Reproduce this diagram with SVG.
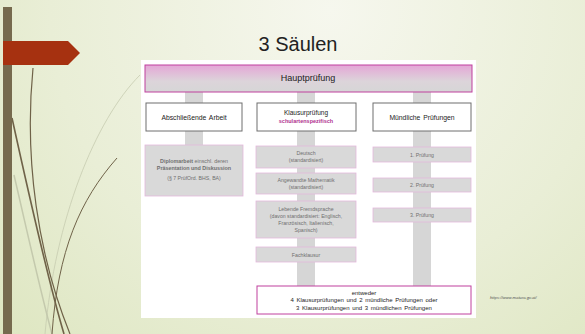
<svg xmlns="http://www.w3.org/2000/svg" width="585" height="334" viewBox="0 0 585 334">
<defs>
<radialGradient id="bg" cx="330" cy="10" r="560" gradientUnits="userSpaceOnUse">
<stop offset="0" stop-color="#f6f7ee"/>
<stop offset="0.5" stop-color="#e9eed6"/>
<stop offset="1" stop-color="#d8e2b6"/>
</radialGradient>
<linearGradient id="hp" x1="0" y1="0" x2="0" y2="1">
<stop offset="0" stop-color="#e4a6d6"/>
<stop offset="0.6" stop-color="#dcd4da"/>
<stop offset="1" stop-color="#d6d6d6"/>
</linearGradient>
<style>
.t{font-family:"Liberation Sans",Arial,sans-serif;text-anchor:middle}
.hdr{fill:#ffffff;stroke:#6e6e6e;stroke-width:1}
.item{fill:#d9d9d9;stroke:#e3b9dc;stroke-width:0.8}
.bar{fill:#d6d6d6}
.dark{fill:#222222}
.grey{fill:#6f6f6f}
.curve{fill:none;stroke:#6f6248}
</style>
</defs>
<rect x="0" y="0" width="585" height="334" fill="url(#bg)"/>
<g id="decor">
<path class="curve" d="M140 75 C95 120 55 220 45 334" stroke="#c9cdb4" stroke-width="0.8" style="stroke:#c6cbb0"/>
<path class="curve" d="M14 175 C28 235 40 290 52 334" style="stroke:#c4c9ad" stroke-width="1.5"/>
<path class="curve" d="M33 68 C24 160 38 255 70 334" stroke-width="1.2"/>
<path class="curve" d="M12 118 C30 200 48 280 64 334" stroke-width="1.6"/>
<path class="curve" d="M117 158 C80 200 58 250 52 334" stroke-width="1"/>
<rect x="3" y="7" width="9" height="327" fill="#766a4e"/>
<polygon points="3,41 68,41 80,53 68,65 3,65" fill="#a63110"/>
</g>
<text class="t dark" x="298" y="51" font-size="20" style="font-family:'Liberation Sans',sans-serif">3 Säulen</text>
<rect x="141" y="60" width="335" height="258" fill="#ffffff"/>
<g id="connectors">
<rect class="bar" x="185" y="92" width="18" height="53"/>
<rect class="bar" x="297" y="92" width="18" height="194"/>
<rect class="bar" x="413" y="92" width="18" height="194"/>
</g>
<g id="hauptpruefung">
<rect x="145" y="65" width="327" height="27" fill="url(#hp)" stroke="#c0409e" stroke-width="1"/>
<text class="t dark" x="308" y="81" font-size="9">Hauptprüfung</text>
</g>
<g id="abschliessende-arbeit">
<rect class="hdr" x="146" y="103" width="96" height="28"/>
<text class="t dark" x="194" y="119.5" font-size="6.8" word-spacing="1">Abschließende Arbeit</text>
</g>
<g id="klausurpruefung">
<rect class="hdr" x="257" y="103" width="99" height="28"/>
<text class="t dark" x="306" y="115" font-size="6.5">Klausurprüfung</text>
<text class="t" x="306" y="122.5" font-size="5.5" font-weight="bold" fill="#b0308f">schulartenspezifisch</text>
</g>
<g id="muendliche-pruefungen">
<rect class="hdr" x="373" y="103" width="98" height="28"/>
<text class="t dark" x="422" y="119.5" font-size="6.8" word-spacing="1">Mündliche Prüfungen</text>
</g>
<g id="diplomarbeit">
<rect class="item" x="145" y="145" width="98" height="51"/>
<text class="t grey" x="194" y="163" font-size="5.4"><tspan font-weight="bold">Diplomarbeit</tspan> einschl. deren</text>
<text class="t grey" x="194" y="170" font-size="5.4" font-weight="bold">Präsentation und Diskussion</text>
<text class="t grey" x="194" y="180" font-size="5.2">(§ 7 PrüfOrd. BHS, BA)</text>
</g>
<g id="deutsch">
<rect class="item" x="256" y="146" width="100" height="22"/>
<text class="t grey" x="306" y="155" font-size="5.2">Deutsch</text>
<text class="t grey" x="306" y="162" font-size="5.2">(standardisiert)</text>
</g>
<g id="mathematik">
<rect class="item" x="256" y="173" width="100" height="21"/>
<text class="t grey" x="306" y="182" font-size="5.2">Angewandte Mathematik</text>
<text class="t grey" x="306" y="189" font-size="5.2">(standardisiert)</text>
</g>
<g id="fremdsprache">
<rect class="item" x="256" y="201" width="100" height="37"/>
<text class="t grey" x="306" y="211" font-size="5.2">Lebende Fremdsprache</text>
<text class="t grey" x="306" y="218" font-size="5.2">(davon standardisiert: Englisch,</text>
<text class="t grey" x="306" y="225" font-size="5.2">Französisch, Italienisch,</text>
<text class="t grey" x="306" y="232" font-size="5.2">Spanisch)</text>
</g>
<g id="fachklausur">
<rect class="item" x="256" y="247" width="100" height="15"/>
<text class="t grey" x="306" y="256.5" font-size="5.2">Fachklausur</text>
</g>
<g id="pruefung-1">
<rect class="item" x="373" y="147" width="98" height="15"/>
<text class="t grey" x="422" y="156.5" font-size="5.2">1. Prüfung</text>
</g>
<g id="pruefung-2">
<rect class="item" x="373" y="178" width="98" height="14"/>
<text class="t grey" x="422" y="187" font-size="5.2">2. Prüfung</text>
</g>
<g id="pruefung-3">
<rect class="item" x="373" y="208" width="98" height="14"/>
<text class="t grey" x="422" y="217" font-size="5.2">3. Prüfung</text>
</g>
<g id="entweder">
<rect x="257" y="286" width="214" height="28" fill="#ffffff" stroke="#c0409e" stroke-width="1"/>
<text class="t dark" x="364" y="294.5" font-size="6">entweder</text>
<text class="t dark" x="364" y="302" font-size="6" word-spacing="1">4 Klausurprüfungen und 2 mündliche Prüfungen oder</text>
<text class="t dark" x="364" y="309.5" font-size="6" word-spacing="1">3 Klausurprüfungen und 3 mündlichen Prüfungen</text>
</g>
<text x="490" y="299" font-size="4.2" font-style="italic" fill="#555555" style="font-family:'Liberation Sans',sans-serif">https://www.matura.gv.at/</text>
</svg>
